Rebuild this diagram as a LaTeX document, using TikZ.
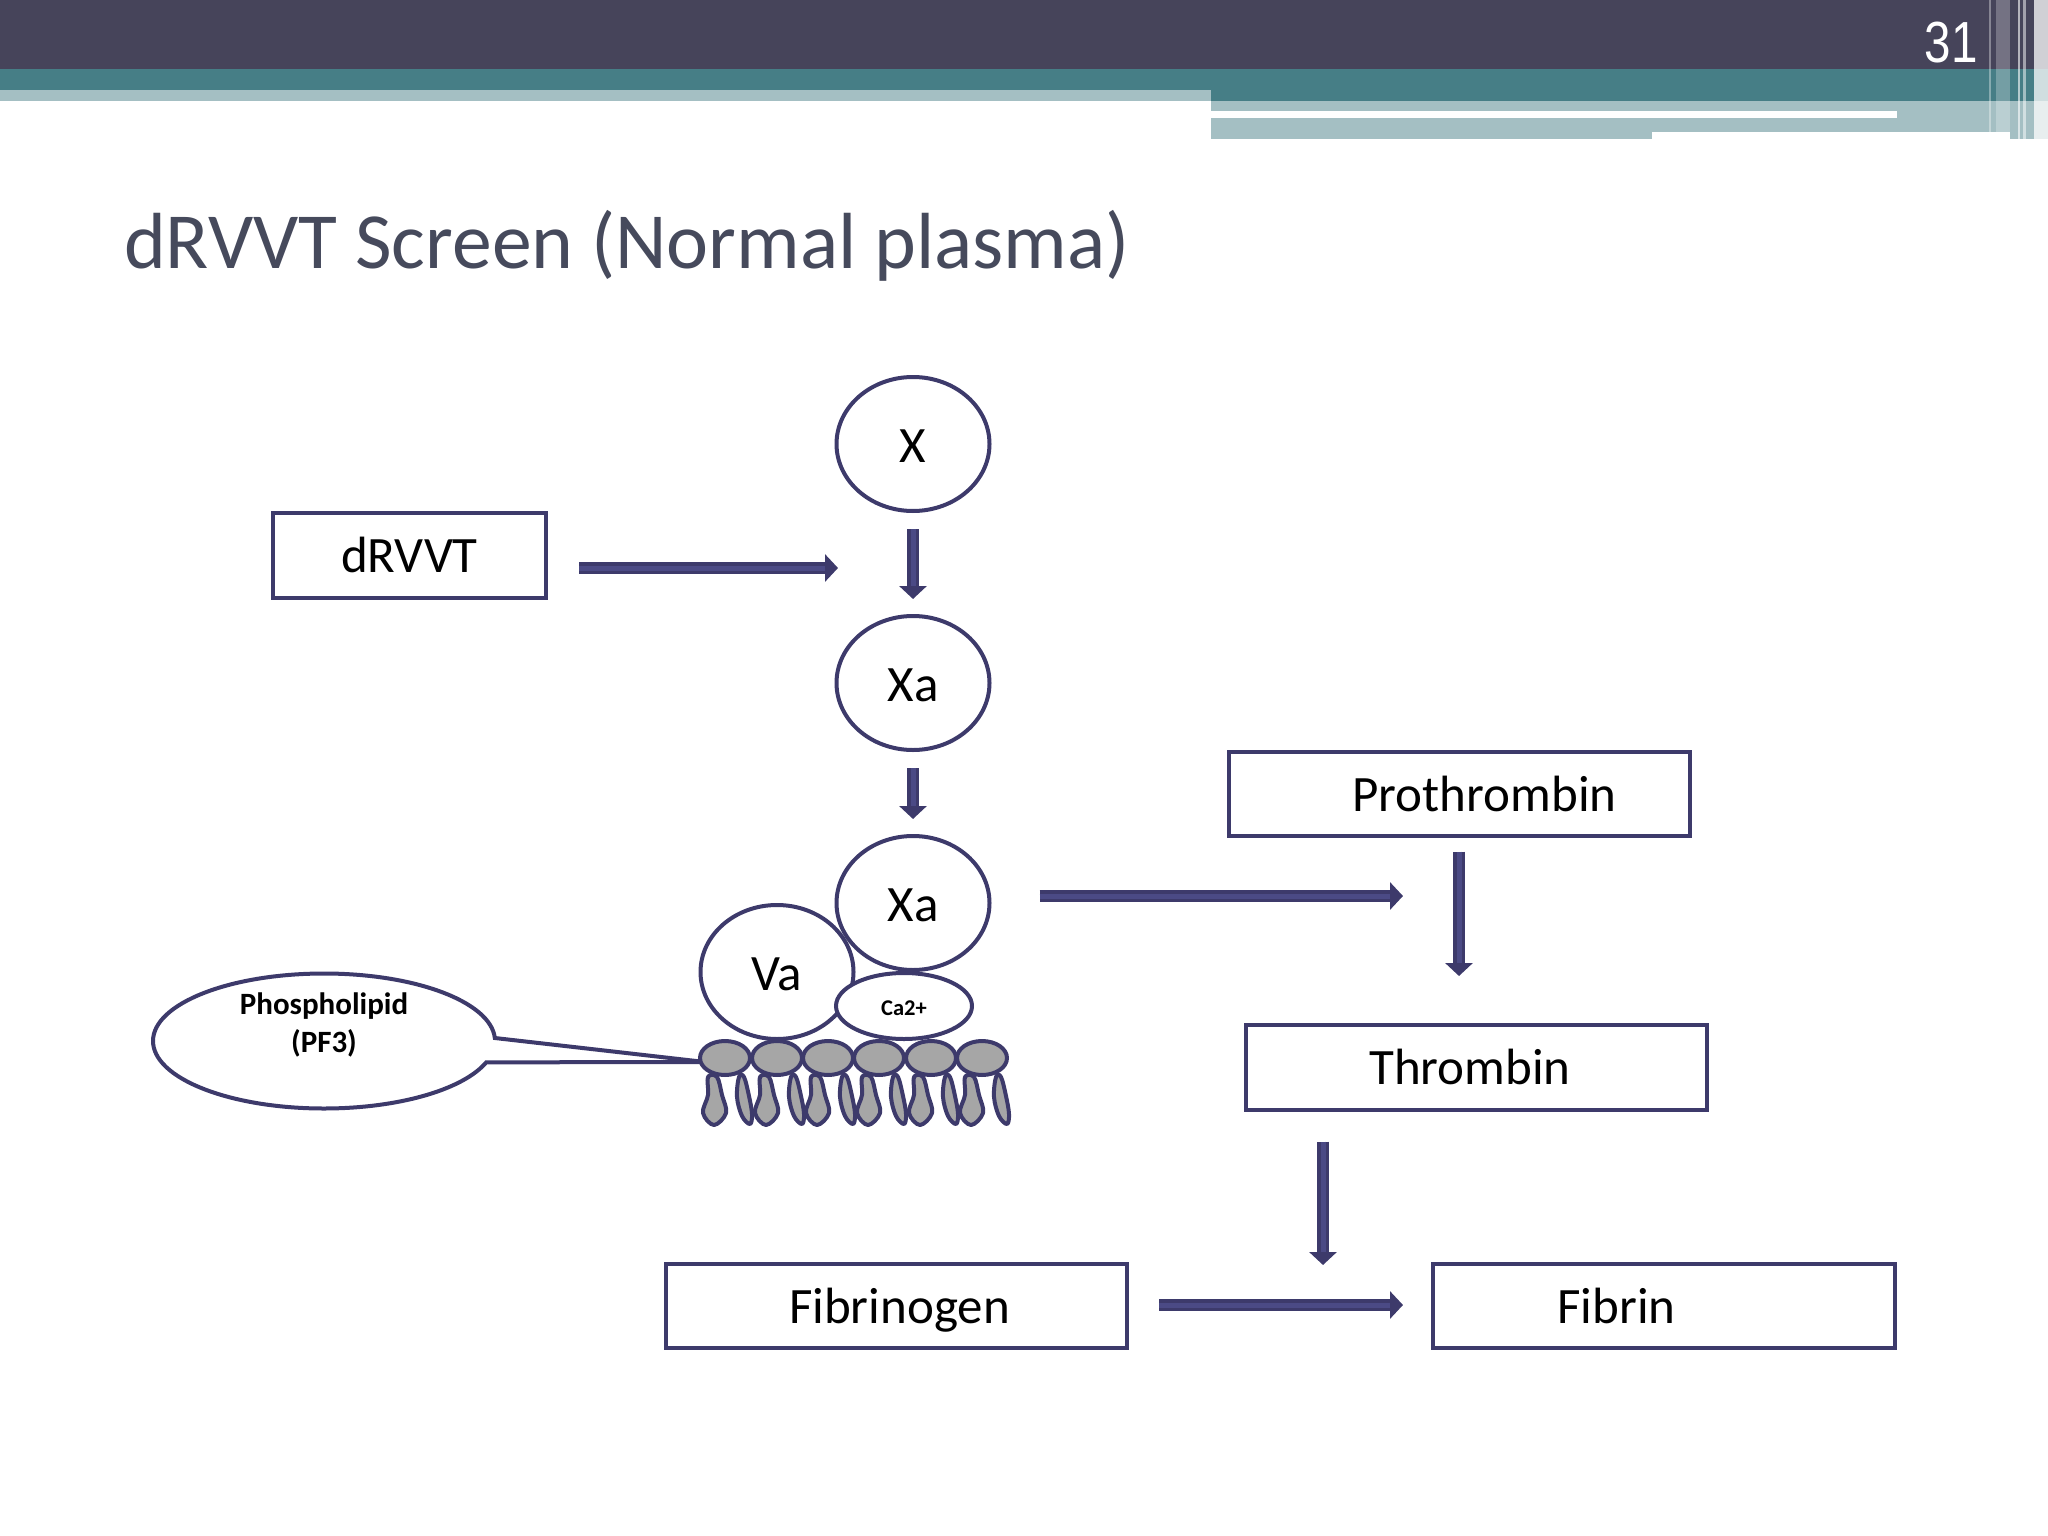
\documentclass[tikz,border=0pt]{standalone}
\usepackage{fontspec}
\setmainfont{Carlito}
\newfontfamily\numfont{Liberation Sans}
\usetikzlibrary{shapes.geometric,shapes.callouts,arrows.meta}
\definecolor{headdark}{HTML}{46445A}
\definecolor{headteal}{HTML}{467E86}
\definecolor{headlight}{HTML}{A4BFC3}
\definecolor{titlegray}{HTML}{464A5C}
\definecolor{linecol}{HTML}{3D3A6B}
\definecolor{arrmid}{HTML}{4B4A85}
\definecolor{lipid}{HTML}{A6A6A6}
\tikzset{
  box/.style={draw=linecol, line width=4pt, rectangle, inner sep=0pt, text height=35pt, text depth=0pt, font=\fontsize{51}{51}\selectfont},
  bubble/.style={draw=linecol, line width=4pt, ellipse, fill=white, inner sep=0pt, minimum width=153pt, minimum height=134pt, text height=36pt, text depth=0pt, font=\fontsize{51}{51}\selectfont},
  arr/.style={draw=linecol, line width=3.5pt, double=arrmid, double distance=5pt, -{Triangle[length=13pt,width=27pt,fill=linecol]}},
  lipidpart/.style={draw=linecol, line width=4pt, fill=lipid, line join=round},
}
\begin{document}
\begin{tikzpicture}[x=1pt,y=-1pt]
    \useasboundingbox (0,0) rectangle (2048,1536);

    % slide header
    \fill[headdark] (0,0) rectangle (2048,69);
    \fill[headteal] (0,69) rectangle (2048,90);
    \fill[headteal] (1211,90) rectangle (2048,101);
    \fill[headlight] (0,90) rectangle (1211,101);
    \fill[headlight] (1211,101) rectangle (2048,139);
    \fill[white] (1211,111) rectangle (1897,118);
    \fill[white] (1652,132) rectangle (2010,139);
    \foreach \x/\w/\o in {1989/2/35,1996/14/25,2018/2/60,2023/3/50,2034/14/75}
      \fill[white, opacity=0.\o] (\x,0) rectangle ++(\w,139);

    \node[text=white, font=\numfont\fontsize{58}{58}\selectfont, xscale=0.82] (num) at (1951,43) {31};
    \node[anchor=west, text=titlegray, font=\fontsize{79.6}{80}\selectfont, inner sep=0pt] (title) at (124,246) {dRVVT Screen (Normal plasma)};

    % enzymes
    \node[bubble] (X) at (913,444) {X};
    \node[bubble] (XaA) at (913,683) {Xa};
    \node[bubble] (XaB) at (913,903) {Xa};
    \node[bubble] (Va) at (777,972) {Va};
    \node[bubble, minimum width=136pt, minimum height=66pt, text height=18pt, font=\fontsize{22.5}{22.5}\selectfont\bfseries] (Ca) at (904,1006) {Ca2+};

    % boxes
    \node[box, minimum width=273pt, minimum height=85pt] (dRVVT) at (409.5,555) {dRVVT};
    \node[box, minimum width=461pt, minimum height=84pt] (Prothrombin) at (1459.5,793.5) {\hspace*{50pt}Prothrombin};
    \node[box, minimum width=461pt, minimum height=85pt] (Thrombin) at (1476.5,1067) {Thrombin\hspace*{13pt}};
    \node[box, minimum width=461pt, minimum height=84pt] (Fibrinogen) at (896.5,1305.5) {\hspace*{6pt}Fibrinogen};
    \node[box, minimum width=462pt, minimum height=84pt] (Fibrin) at (1664,1305.5) {Fibrin\hspace*{95pt}};

    % phospholipid layer
    \node[ellipse callout, draw=linecol, line width=4pt, fill=white, inner sep=0pt, minimum width=342pt, minimum height=135pt,
      callout absolute pointer={(705,1062)}, callout pointer arc=21,
      label={[yshift=16pt, align=center, font=\fontsize{31}{38}\selectfont\bfseries]center:Phospholipid\\(PF3)}] (Phospholipid) at (324,1041) {};
    \foreach \x in {725,777,828,879,931,982} {
      \node[draw=linecol, line width=4pt, fill=lipid, ellipse, inner sep=0pt, minimum width=50pt, minimum height=34pt] (head\x) at (\x,1058) {};
      \draw[lipidpart] plot[smooth cycle, tension=0.6] coordinates {(\x-17,1077) (\x-8,1077) (\x-3,1095) (\x+1,1113) (\x-11,1125) (\x-22,1113) (\x-17,1095)};
      \draw[lipidpart] plot[smooth cycle, tension=0.6] coordinates {(\x+14,1077) (\x+19,1077) (\x+24,1096) (\x+27,1114) (\x+25,1124) (\x+17,1116) (\x+12,1097)};
    }

    % arrows
    \coordinate (dRVVTend) at (838,568);
    \coordinate (rxEnd) at (1403,896);
    \coordinate (prothEnd) at (1459,976);
    \coordinate (thrEnd) at (1323,1265);
    \coordinate (fibEnd) at (1403,1305);
    \draw[arr] (X.south) ++(0,16) -- ([yshift=15pt]XaA.north);
    \draw[arr] (XaA.south) ++(0,16) -- ([yshift=15pt]XaB.north);
    \draw[arr] (dRVVT.east |- dRVVTend) ++(31,0) -- (dRVVTend);
    \draw[arr] (XaB.east |- rxEnd) ++(48,0) -- (rxEnd);
    \draw[arr] (Prothrombin.south -| prothEnd) ++(0,14) -- (prothEnd);
    \draw[arr] (Thrombin.south -| thrEnd) ++(0,30) -- (thrEnd);
    \draw[arr] (Fibrinogen.east |- fibEnd) ++(30,0) -- (fibEnd);
\end{tikzpicture}
\end{document}
